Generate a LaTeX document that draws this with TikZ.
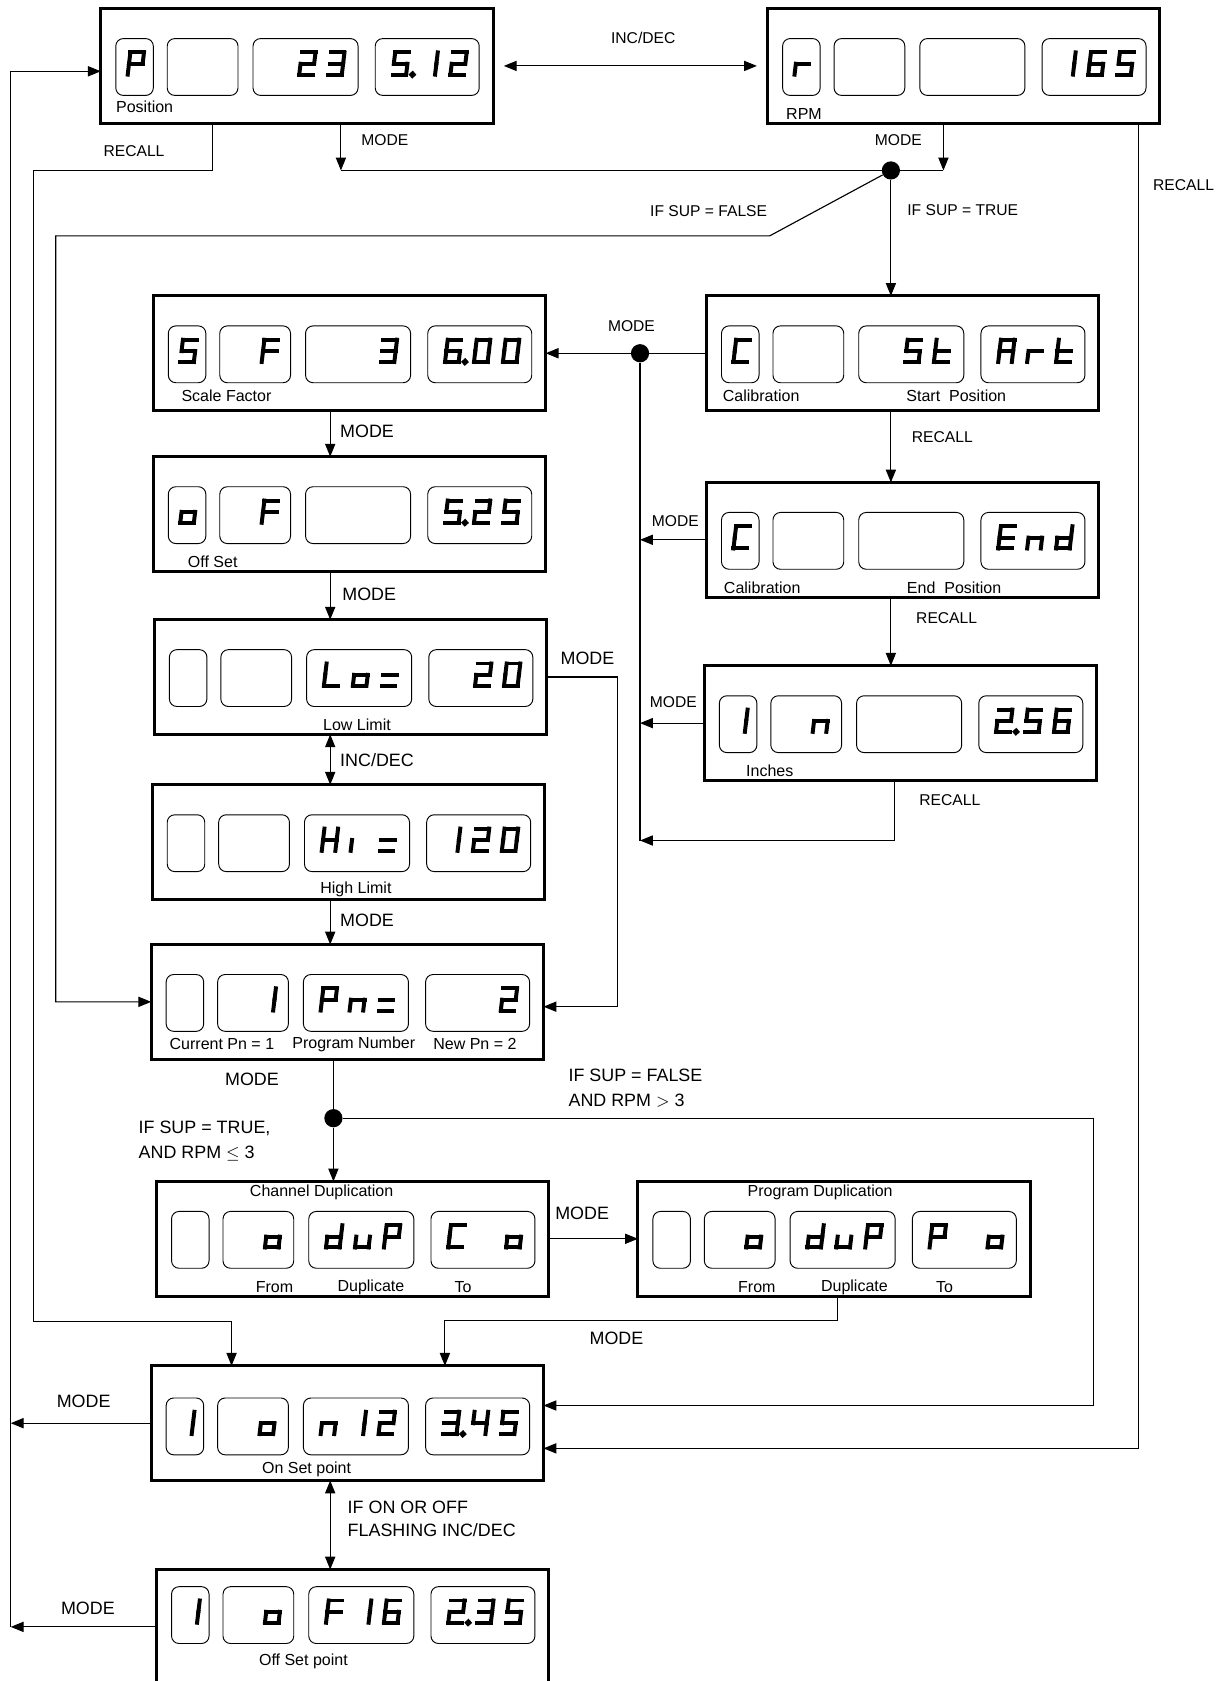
\documentclass[tikz,border=0pt]{standalone}
\usepackage{fontspec}
\setmainfont{Liberation Sans}
\usetikzlibrary{arrows.meta,calc}

% seven segment glyphs: which segments are lit
\newcommand{\defled}[2]{\expandafter\def\csname ledc#1\endcsname{#2}}
\defled{0}{a,b,c,d,e,f}
\defled{1}{b,c}
\defled{2}{a,b,g,e,d}
\defled{3}{a,b,g,c,d}
\defled{4}{f,g,b,c}
\defled{5}{a,f,g,c,d}
\defled{6}{a,f,g,e,d,c}
\defled{P}{a,b,f,g,e}
\defled{r}{e,g}
\defled{S}{a,f,g,c,d}
\defled{F}{a,f,g,e}
\defled{o}{c,d,e,g}
\defled{L}{f,e,d}
\defled{eq}{g,d}
\defled{H}{f,e,b,c,g}
\defled{i}{e}
\defled{C}{a,f,e,d}
\defled{t}{f,e,d,g}
\defled{A}{a,b,c,e,f,g}
\defled{E}{a,f,g,e,d}
\defled{n}{e,g,c}
\defled{d}{b,c,d,e,g}
\defled{u}{c,d,e}
\defled{p}{p}

\tikzset{
  ledframe/.style={draw,line width=1.6pt,minimum width=7.32cm,minimum height=2.14cm,inner sep=0pt,outer sep=0pt},
  ledcell/.style={draw,line width=0.5pt,rounded corners=0.14cm},
  ledseg/.style={draw,line width=0.074cm,line cap=rect},
  seg a/.style={insert path={(1.9,-22.6)--(14.6,-22.6)}},
  seg b/.style={insert path={(14.6,-22.6)--(14.6,-12)}},
  seg c/.style={insert path={(14.6,-12)--(14.6,-1.9)}},
  seg d/.style={insert path={(1.9,-1.9)--(14.6,-1.9)}},
  seg e/.style={insert path={(1.9,-1.9)--(1.9,-12)}},
  seg f/.style={insert path={(1.9,-12)--(1.9,-22.6)}},
  seg g/.style={insert path={(1.9,-12)--(14.6,-12)}},
  seg p/.style={insert path={(20.5,-1.9) circle (1.1)}},
  lbl/.style={font=\fontsize{8.3}{10}\selectfont,inner sep=0pt},
  lblb/.style={font=\fontsize{9.5}{12}\selectfont,inner sep=0pt},
  sub/.style={font=\fontsize{8.5}{10}\selectfont,inner sep=0pt},
  link/.style={line width=0.6pt},
  arr/.style={link,-{Triangle[length=0.24cm,width=0.19cm]}},
  arrs/.style={link,{Triangle[length=0.24cm,width=0.19cm]}-{Triangle[length=0.24cm,width=0.19cm]}},
  junction/.style={circle,fill,inner sep=0pt,minimum size=0.34cm}
}

% one glyph: box left, cell top, slot offset, glyph name
\newcommand{\ledchar}[4]{%
  \edef\ledsegs{\csname ledc#4\endcsname}%
  \begin{scope}[shift={(#1+#3,#2+35.5)},xslant=0.12]
    \foreach \sg in \ledsegs {\edef\ledtmp{\noexpand\path[ledseg,seg \sg];}\ledtmp}
  \end{scope}}

% display: [cell offset] name, left, top, list of slot/glyph
\newcommand{\ledbox}[5][28]{%
  \node[ledframe] (#2) at (#3+183,#4+53.5) {};
  \draw[ledcell] (#3+14,#4+#1) rectangle ++(35,53);
  \draw[ledcell] (#3+62,#4+#1) rectangle ++(66,53);
  \draw[ledcell] (#3+142,#4+#1) rectangle ++(98,53);
  \draw[ledcell] (#3+256,#4+#1) rectangle ++(97,53);
  \foreach \xo/\ch in {#5} {\ledchar{#3}{#4+#1}{\xo}{\ch}}}

\begin{document}
\begin{tikzpicture}[x=0.02cm,y=-0.02cm]
  \useasboundingbox (0,0) rectangle (1140,1568);
  \clip (0,0) rectangle (1140,1568);

  % displays
  \ledbox{pos}{94}{8}{23/P,183/2,210/3,270/5,270/p,297/1,324/2}
  \ledbox{rpm}{716}{8}{23/r,270/1,297/6,324/5}
  \ledbox{sf}{143}{276}{23/S,99/F,210/3,270/6,270/p,297/0,324/0}
  \ledbox{off}{143}{426}{23/o,99/F,270/5,270/p,297/2,324/5}
  \ledbox{low}{144}{578}{156/L,183/o,210/eq,297/2,324/0}
  \ledbox{high}{142}{732}{156/H,183/i,210/eq,270/1,297/2,324/0}
  \ledbox{pn}{141}{881}{99/1,156/P,183/n,210/eq,324/2}
  \ledbox{cdup}{146}{1102}{99/o,156/d,183/u,210/P,270/C,324/o}
  \ledbox{pdup}{595}{1102}{99/o,156/d,183/u,210/P,270/P,324/o}
  \ledbox[30]{on}{141}{1274}{23/1,99/o,156/n,183/1,210/2,270/3,270/p,297/4,324/5}
  \ledbox[16]{offp}{146}{1464}{23/1,99/o,156/F,183/1,210/6,270/2,270/p,297/3,324/5}
  \ledbox{cstart}{659}{276}{23/C,183/S,210/t,270/A,297/r,324/t}
  \ledbox{cend}{659}{450}{23/C,270/E,297/n,324/d}
  \ledbox{inch}{657}{621}{23/1,99/n,270/2,270/p,297/5,324/6}

  % texts in the displays
  \node[sub,anchor=west] at (108,100) {Position};
  \node[sub,anchor=west] at (733,106) {RPM};
  \node[sub,anchor=west] at (169,369) {Scale Factor};
  \node[sub,anchor=west] at (175,524) {Off Set};
  \node[sub] at (333,676) {Low Limit};
  \node[sub] at (332,830) {High Limit};
  \node[sub] at (207,974) {Current Pn = 1};
  \node[sub] at (330,974) {Program Number};
  \node[sub] at (443,974) {New Pn = 2};
  \node[sub] at (300,1112) {Channel Duplication};
  \node[sub] at (256,1201) {From};
  \node[sub] at (346,1201) {Duplicate};
  \node[sub] at (432,1201) {To};
  \node[sub] at (765,1112) {Program Duplication};
  \node[sub] at (706,1201) {From};
  \node[sub] at (797,1201) {Duplicate};
  \node[sub] at (881,1201) {To};
  \node[sub] at (286,1371) {On Set point};
  \node[sub] at (283,1550) {Off Set point};
  \node[sub] at (710,369) {Calibration};
  \node[sub] at (892,369) {Start\ \ Position};
  \node[sub] at (711,548) {Calibration};
  \node[sub] at (890,548) {End\ \ Position};
  \node[sub] at (718,719) {Inches};

  % top row
  \draw[arrs,shorten <=0.2cm,shorten >=0.2cm] (pos) -- (rpm);
  \node[lbl] at (600,35) {INC/DEC};

  \node[junction] (sup) at (831,159) {};
  \coordinate (posmode) at (318,159);
  \coordinate (rpmmode) at (880,159);
  \draw[arr] (pos.south -| posmode) -- (posmode);
  \draw[arr] (rpm.south -| rpmmode) -- (rpmmode);
  \draw[link] (posmode) -- (rpmmode);
  \node[lbl] at (359,131) {MODE};
  \node[lbl] at (838,131) {MODE};

  \coordinate (posrec) at (198,159);
  \coordinate (leftrec) at (31,1233);
  \coordinate (onrec) at (216,1233);
  \draw[arr] (pos.south -| posrec) -- (posrec) -| (leftrec) -- (onrec) -- (on.north -| onrec);
  \node[lbl] at (125,141) {RECALL};

  \coordinate (falsebend) at (718,220);
  \coordinate (falseleft) at (52,220);
  \draw[arr] (sup) -- (falsebend) -- (falseleft) |- (pn.west);
  \node[lbl] at (661,197) {IF SUP = FALSE};
  \draw[arr] (sup) -- (sup |- cstart.north);
  \node[lbl] at (898,196) {IF SUP = TRUE};

  \coordinate (rpmrec) at (1062,1351);
  \draw[arr] (rpm.south -| rpmrec) -- (rpmrec) -- (rpmrec -| on.east);
  \node[lbl] at (1104,173) {RECALL};

  % left bus back to the top
  \coordinate (bus) at (10,0);
  \draw[arr] (on.west) -- (on.west -| bus);
  \draw[arr] (offp.west) -- (offp.west -| bus);
  \draw[arr] (offp.west -| bus) -- ([yshift=-0.1cm]pos.west -| bus) -- ([yshift=-0.1cm]pos.west);
  \node[lblb] at (78,1307) {MODE};
  \node[lblb] at (82,1500) {MODE};

  % calibration
  \node[junction] (calj) at (597,329.5) {};
  \coordinate (calbot) at (597,784);
  \coordinate (inchrec) at (834,784);
  \draw[arr] (cstart.west) -- (sf.east);
  \draw[link] (calj) -- (calbot);
  \draw[arr] (cend.west) -- (cend.west -| calj);
  \draw[arr] (inch.west) -- (inch.west -| calj);
  \draw[arr] (inch.south -| inchrec) -- (inchrec) -- (calbot);
  \draw[arr] (cstart.south -| sup) -- (cend.north -| sup);
  \draw[arr] (cend.south -| sup) -- (inch.north -| sup);
  \node[lbl] at (589,304) {MODE};
  \node[lbl] at (630,486) {MODE};
  \node[lbl] at (628,655) {MODE};
  \node[lbl] at (879,408) {RECALL};
  \node[lbl] at (883,577) {RECALL};
  \node[lbl] at (886,746) {RECALL};

  % setup column
  \coordinate (midcol) at (308,0);
  \draw[arr] (sf.south -| midcol) -- (off.north -| midcol);
  \draw[arr] (off.south -| midcol) -- (low.north -| midcol);
  \draw[arrs] (low.south -| midcol) -- (high.north -| midcol);
  \draw[arr] (high.south -| midcol) -- (pn.north -| midcol);
  \node[lblb,anchor=west] at (317,402) {MODE};
  \node[lblb,anchor=west] at (319,554) {MODE};
  \node[lblb,anchor=west] at (317,709) {INC/DEC};
  \node[lblb,anchor=west] at (317,858) {MODE};

  \coordinate (lowmode) at (576,631.5);
  \draw[arr] (low.east) -- (lowmode) |- ([yshift=-0.09cm]pn.east);
  \node[lblb] at (548,614) {MODE};

  % program number
  \node[junction] (pnj) at (311,1043) {};
  \coordinate (pnright) at (1020,1043);
  \draw[link] (pn.south -| pnj) -- (pnj);
  \draw[arr] (pnj) -- (cdup.north -| pnj);
  \draw[arr] (pnj) -- (pnright) |- ([yshift=0.33cm]on.east);
  \node[lblb] at (235,1007) {MODE};
  \node[lblb,anchor=west,align=left,font=\fontsize{9.5}{13.6}\selectfont] at (530,1015) {IF SUP = FALSE\\AND RPM $>$ 3};
  \node[lblb,anchor=west,align=left,font=\fontsize{9.5}{13}\selectfont] at (129,1064.5) {IF SUP = TRUE,\\AND RPM $\leq$ 3};

  % duplication
  \draw[arr] (cdup.east) -- (pdup.west);
  \node[lblb] at (543,1132) {MODE};
  \coordinate (pdupmode) at (781,1232);
  \coordinate (onmode) at (415,1232);
  \draw[arr] (pdup.south -| pdupmode) -- (pdupmode) -- (onmode) -- (on.north -| onmode);
  \node[lblb] at (575,1248) {MODE};

  % set points
  \draw[arrs] (on.south -| midcol) -- (offp.north -| midcol);
  \node[lblb,anchor=west,align=left,font=\fontsize{9.5}{12}\selectfont] at (324,1416.5) {IF ON OR OFF\\FLASHING INC/DEC};
\end{tikzpicture}
\end{document}
